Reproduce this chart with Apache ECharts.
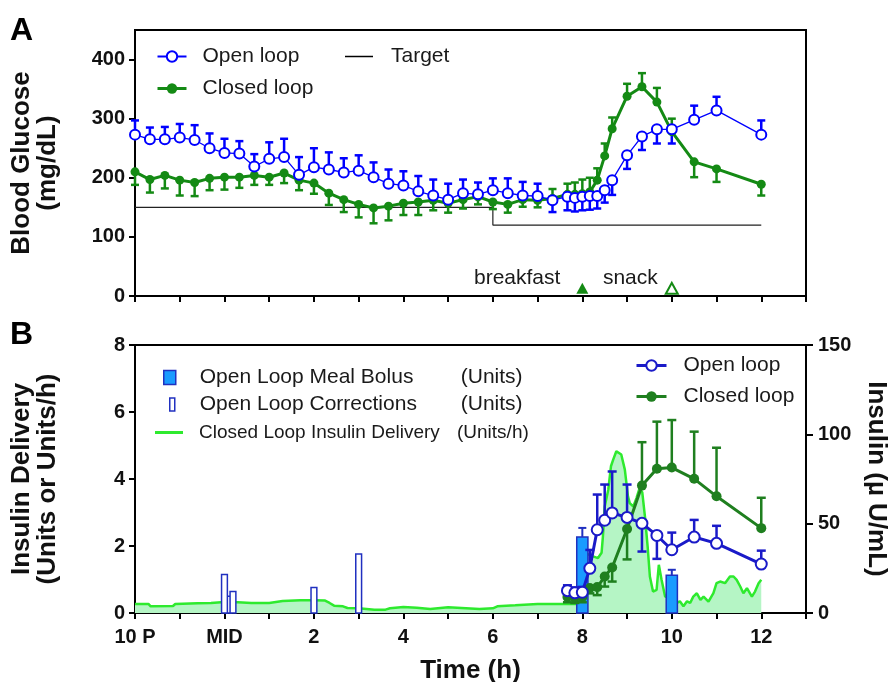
<!DOCTYPE html>
<html>
<head>
<meta charset="utf-8">
<script src="https://cdn.jsdelivr.net/npm/echarts@6/dist/echarts.min.js"></script>
<style>html,body{margin:0;padding:0;background:#fff}#c{width:893px;height:682px}</style>
</head>
<body>
<div id="c"></div>
<script>
// ---------- DATA ----------
const hourTicks = [-2,-1,0,1,2,3,4,5,6,7,8,9,10,11,12,13];
const xTickValues = [-2,0,2,4,6,8,10,12];
const xTickLabels = ['10 P','MID','2','4','6','8','10','12'];

const glucoseTicks = [0,100,200,300,400];
const glucoseTimes = [-2,-1.667,-1.333,-1,-0.667,-0.333,0,0.333,0.667,1,1.333,1.667,2,2.333,2.667,3,3.333,3.667,4,4.333,4.667,5,5.333,5.667,6,6.333,6.667,7,7.333,7.667,7.833,8,8.167,8.333,8.5,8.667,9,9.333,9.667,10,10.5,11,12];
const glucoseOpen = [273,265,265,268,264,250,242,241,219,232,235,205,218,214,209,212,201,190,187,177,170,163,174,172,179,174,170,169,162,168,166,168,169,169,179,196,238,270,282,282,298,314,273];
const glucoseOpenErr = [24,20,21,23,25,25,24,21,21,28,31,30,32,29,24,26,25,24,24,26,27,27,23,20,20,25,23,21,-20,-23,-23,-23,-23,-21,-21,-25,-23,-23,-24,-24,24,23,24];
const glucoseClosed = [210,197,204,196,192,199,201,201,204,201,208,196,191,174,163,155,149,152,157,159,162,157,163,168,159,155,163,162,165,172,172,173,176,196,237,283,338,354,328,278,227,215,189];
const glucoseClosedErr = [-22,-22,-22,-26,-23,-20,-21,-18,-16,-13,-17,-17,-18,-20,-21,-22,-26,-24,-20,-22,-17,-16,-15,-13,-12,-14,-12,-12,16,18,20,24,24,20,21,19,21,23,24,22,-26,-22,-19];
const targetTimes = [-2,6,6,12];
const targetValues = [150,150,120,120];
const mealTimes = [8,10];
const mealNames = ['breakfast','snack'];
const mealMarkerLevel = [13,13];

const deliveryTicks = [0,2,4,6,8];
const insulinTicks = [0,50,100,150];
const bolusTimes = [8,10];
const bolusUnits = [2.27,1.13];
const bolusErr = [0.27,0.16];
const correctionTimes = [0.08,0,0.19,2,3];
const correctionUnits = [0.5,1.15,0.64,0.76,1.76];
const deliveryTimes = [-2,-1.7,-1.65,-1.15,-1.1,-0.6,-0.3,0,0.3,0.6,1,1.3,1.7,2,2.25,2.35,2.45,2.65,2.75,3,3.35,3.6,3.7,4,4.3,4.6,5,5.3,5.7,6,6.1,6.5,7,7.5,8,8.03,8.13,8.24,8.35,8.43,8.46,8.5,8.58,8.64,8.69,8.76,8.8,8.87,8.95,9.02,9.06,9.14,9.21,9.28,9.34,9.4,9.46,9.51,9.58,9.66,9.71,9.77,9.85,10,10.11,10.18,10.26,10.34,10.41,10.48,10.56,10.64,10.71,10.82,10.93,11,11.08,11.19,11.3,11.38,11.45,11.53,11.6,11.68,11.79,11.86,11.94,12];
const deliveryRate = [0.27,0.27,0.2,0.21,0.27,0.29,0.3,0.33,0.32,0.3,0.3,0.36,0.38,0.38,0.37,0.3,0.22,0.2,0.15,0.14,0.1,0.1,0.14,0.18,0.16,0.12,0.17,0.15,0.12,0.14,0.2,0.23,0.27,0.27,0.27,1.8,1.75,1.69,1.64,1.8,2.28,3.18,3.68,4.38,4.58,4.83,4.88,4.73,4.28,3.48,3.28,3.18,3.43,3.73,3.6,2.88,1.98,1.09,0.64,0.69,1.44,1.0,0.49,0.44,0.3,0.35,0.2,0.35,0.3,0.49,0.59,0.39,0.49,0.34,0.59,0.89,0.94,0.89,1.09,1.09,0.99,0.79,0.59,0.74,0.49,0.64,0.89,0.99];
const insulinTimes = [7.667,7.833,8,8.167,8.333,8.5,8.667,9,9.333,9.667,10,10.5,11,12];
const insulinOpen = [12.5,11.3,11.6,25,46.6,51.9,56,53.5,50.2,43.4,35.4,42.5,39,27.4];
const insulinOpenErr = [3,3,3,10.3,19.7,20,23.2,18.4,-15.8,-13.1,9.6,9.6,9.8,7.5];
const insulinClosed = [9,8.6,9,14,14.5,20.4,25.5,47,71.3,80.7,81.4,75.1,65.3,47.5];
const insulinClosedErr = [-3,-3,-3,-3,-4.5,-5.6,-7.9,-17,24.3,26.4,26.6,26.4,27.2,17];

const deliveryLegendNames = ['Open Loop Meal Bolus','Open Loop Corrections','Closed Loop Insulin Delivery'];
const deliveryLegendUnits = ['(Units)','(Units)','(Units/h)'];

// ---------- STYLE ----------
const FONT = '"Liberation Sans", Arial, Helvetica, sans-serif';
const C_OPEN_A = '#0000ff', C_CLOSED_A = '#148a14';
const C_OPEN_B = '#1a1ac8', C_CLOSED_B = '#1f7f1f';
const C_DELIV = '#2eea2e', C_DELIV_FILL = '#b5f5c5';
const C_BOLUS = '#1a9bff', C_BAR_EDGE = '#2030c0';

const zip = (a, b) => a.map((v, i) => [v, b[i]]);
const zip3 = (a, b, c) => a.map((v, i) => [v, b[i], c[i]]);

function errSeries(xi, yi, t, m, e, color, lw, capHalf, z) {
  return {
    type: 'custom', xAxisIndex: xi, yAxisIndex: yi, z: z, silent: true,
    data: zip3(t, m, e), encode: {x: 0, y: 1},
    renderItem: function (params, api) {
      const tt = api.value(0), v = api.value(1), er = api.value(2);
      const p0 = api.coord([tt, v]);
      const p1 = api.coord([tt, v + er]);
      return {type: 'group', children: [
        {type: 'line', shape: {x1: p0[0], y1: p0[1], x2: p1[0], y2: p1[1]}, style: {stroke: color, lineWidth: lw}},
        {type: 'line', shape: {x1: p1[0] - capHalf, y1: p1[1], x2: p1[0] + capHalf, y2: p1[1]}, style: {stroke: color, lineWidth: lw}}
      ]};
    }
  };
}
function barSeries(name, t, v, halfW, fill, stroke, z) {
  return {
    name: name, type: 'custom', xAxisIndex: 1, yAxisIndex: 1, z: z, silent: true,
    data: zip(t, v), encode: {x: 0, y: 1},
    itemStyle: {color: fill, borderColor: stroke},
    renderItem: function (params, api) {
      const tt = api.value(0), vv = api.value(1);
      const a = api.coord([tt - halfW, vv]);
      const b = api.coord([tt + halfW, 0]);
      return {type: 'rect', shape: {x: a[0], y: a[1], width: b[0] - a[0], height: b[1] - a[1]},
        style: {fill: fill, stroke: stroke, lineWidth: 1.5}};
    }
  };
}

const tickLabelStyle = {fontFamily: FONT, fontWeight: 'bold', fontSize: 20, color: '#111'};
const axisLineStyle = {onZero: false, lineStyle: {color: '#000', width: 2}};
const titleNameStyle = {fontFamily: FONT, fontWeight: 'bold', fontSize: 26, color: '#111', lineHeight: 26};
const legendText = {fontFamily: FONT, fontSize: 21, color: '#1a1a1a'};

function unitFormatter(name) {
  const i = deliveryLegendNames.indexOf(name);
  const small = i === 2;
  return '{s| }{' + (small ? 'm' : 'n') + '|' + name + '}{' + (small ? 'v' : 'u') + '|' + deliveryLegendUnits[i] + '}';
}
function richFor(spacer) {
  return {
    s: {width: spacer, fontSize: 10},
    n: {width: 261, fontFamily: FONT, fontSize: 21, color: '#1a1a1a'},
    u: {fontFamily: FONT, fontSize: 21, color: '#1a1a1a'},
    m: {width: 258, fontFamily: FONT, fontSize: 19, color: '#1a1a1a'},
    v: {fontFamily: FONT, fontSize: 19, color: '#1a1a1a'}
  };
}
function spacedLegend(spacer) {
  return {formatter: n => '{s| }' + n, textStyle: Object.assign({}, legendText, {rich: {s: {width: spacer}}})};
}

const option = {
  backgroundColor: '#fff',
  animation: false,
  title: [
    {text: 'A', left: 10, top: 15, padding: 0, textStyle: {fontFamily: FONT, fontWeight: 'bold', fontSize: 32, color: '#000'}},
    {text: 'B', left: 10, top: 319, padding: 0, textStyle: {fontFamily: FONT, fontWeight: 'bold', fontSize: 32, color: '#000'}}
  ],
  legend: [
    Object.assign({
      left: 156, top: 46, padding: 0, orient: 'vertical', itemGap: 11, itemWidth: 29, itemHeight: 13,
      data: [
        {name: 'Open loop', itemStyle: {color: C_OPEN_A}, lineStyle: {color: C_OPEN_A, width: 2}},
        {name: 'Closed loop', itemStyle: {color: C_CLOSED_A}, lineStyle: {color: C_CLOSED_A, width: 3}}
      ], selectedMode: false
    }, spacedLegend(11)),
    Object.assign({
      left: 345, top: 46, padding: 0, itemWidth: 28, itemHeight: 1.5, icon: 'rect',
      data: [{name: 'Target', itemStyle: {color: '#000'}}], selectedMode: false
    }, spacedLegend(13)),
    Object.assign({
      left: 635, top: 355, padding: 0, orient: 'vertical', itemGap: 10, itemWidth: 30, itemHeight: 13,
      data: [
        {name: 'Open loop', itemStyle: {color: C_OPEN_B}, lineStyle: {color: C_OPEN_B, width: 3}},
        {name: 'Closed loop', itemStyle: {color: C_CLOSED_B}, lineStyle: {color: C_CLOSED_B, width: 3}}
      ], selectedMode: false
    }, spacedLegend(12)),
    {
      left: 163, top: 367, padding: 0, itemWidth: 12, itemHeight: 14, icon: 'rect', selectedMode: false,
      data: [{name: deliveryLegendNames[0], itemStyle: {color: C_BOLUS, borderColor: C_BAR_EDGE, borderWidth: 1.5}}],
      formatter: unitFormatter, textStyle: {rich: richFor(19)}
    },
    {
      left: 169, top: 394, padding: 0, itemWidth: 5, itemHeight: 13, icon: 'rect', selectedMode: false,
      data: [{name: deliveryLegendNames[1], itemStyle: {color: '#fff', borderColor: C_BAR_EDGE, borderWidth: 1.5}}],
      formatter: unitFormatter, textStyle: {rich: richFor(20)}
    },
    {
      left: 155, top: 423, padding: 0, itemWidth: 28, itemHeight: 3, icon: 'rect', selectedMode: false,
      data: [{name: deliveryLegendNames[2], itemStyle: {color: C_DELIV}}],
      formatter: unitFormatter, textStyle: {rich: richFor(11)}
    }
  ],
  grid: [
    {left: 135, top: 30, width: 671, height: 266, show: true, borderColor: '#000', borderWidth: 2, backgroundColor: 'transparent', outerBoundsMode: 'none', containLabel: false},
    {left: 135, top: 345, width: 671, height: 268, show: true, borderColor: '#000', borderWidth: 2, backgroundColor: 'transparent', outerBoundsMode: 'none', containLabel: false}
  ],
  xAxis: [
    {type: 'value', gridIndex: 0, min: -2, max: 13, interval: 1,
      axisLine: axisLineStyle, axisTick: {length: 6, lineStyle: {width: 2, color: '#000'}, customValues: hourTicks},
      axisLabel: {show: false}, splitLine: {show: false}},
    {type: 'value', gridIndex: 1, min: -2, max: 13, interval: 1,
      name: 'Time (h)', nameLocation: 'middle', nameGap: 45, nameTextStyle: titleNameStyle,
      axisLine: axisLineStyle, axisTick: {length: 6, lineStyle: {width: 2, color: '#000'}, customValues: hourTicks},
      axisLabel: Object.assign({margin: 14, customValues: xTickValues,
        formatter: v => { const i = xTickValues.indexOf(Math.round(v)); return i >= 0 ? xTickLabels[i] : ''; }}, tickLabelStyle),
      splitLine: {show: false}}
  ],
  yAxis: [
    {type: 'value', gridIndex: 0, min: 0, max: 450, interval: 50,
      name: 'Blood Glucose\n(mg/dL)', nameLocation: 'middle', nameGap: 74, nameRotate: 90, nameTextStyle: titleNameStyle,
      axisLine: axisLineStyle, axisTick: {length: 6, lineStyle: {width: 2, color: '#000'}, customValues: glucoseTicks},
      axisLabel: Object.assign({margin: 10, customValues: glucoseTicks}, tickLabelStyle), splitLine: {show: false}},
    {type: 'value', gridIndex: 1, min: 0, max: 8, interval: 2,
      name: 'Insulin Delivery\n(Units or Units/h)', nameLocation: 'middle', nameGap: 74, nameRotate: 90, nameTextStyle: titleNameStyle,
      axisLine: axisLineStyle, axisTick: {length: 6, lineStyle: {width: 2, color: '#000'}, customValues: deliveryTicks},
      axisLabel: Object.assign({margin: 10, customValues: deliveryTicks}, tickLabelStyle), splitLine: {show: false}},
    {type: 'value', gridIndex: 1, min: 0, max: 150, interval: 50, position: 'right',
      name: 'Insulin (µ U/mL)', nameLocation: 'middle', nameGap: 57, nameRotate: -90, nameTextStyle: titleNameStyle,
      axisLine: axisLineStyle, axisTick: {length: 7, lineStyle: {width: 2, color: '#000'}, customValues: insulinTicks},
      axisLabel: Object.assign({margin: 12, customValues: insulinTicks}, tickLabelStyle), splitLine: {show: false}}
  ],
  series: [
    // ---- Panel A ----
    {name: 'Target', type: 'line', xAxisIndex: 0, yAxisIndex: 0, data: zip(targetTimes, targetValues),
      symbol: 'none', lineStyle: {color: '#222', width: 1.2}, itemStyle: {color: '#000'}, z: 1, silent: true},
    errSeries(0, 0, glucoseTimes, glucoseClosed, glucoseClosedErr, C_CLOSED_A, 2.5, 4, 2),
    errSeries(0, 0, glucoseTimes, glucoseOpen, glucoseOpenErr, C_OPEN_A, 2.5, 4, 2),
    {name: 'Closed loop', type: 'line', xAxisIndex: 0, yAxisIndex: 0, data: zip(glucoseTimes, glucoseClosed),
      symbol: 'circle', symbolSize: 9, lineStyle: {color: C_CLOSED_A, width: 3}, itemStyle: {color: C_CLOSED_A}, z: 3, silent: true},
    {name: 'Open loop', type: 'line', xAxisIndex: 0, yAxisIndex: 0, data: zip(glucoseTimes, glucoseOpen),
      symbol: 'emptyCircle', symbolSize: 10, lineStyle: {color: C_OPEN_A, width: 1.3}, itemStyle: {color: C_OPEN_A, borderWidth: 2.5}, z: 4, silent: true},
    {type: 'scatter', xAxisIndex: 0, yAxisIndex: 0, z: 5, silent: true,
      data: mealTimes.map((t, i) => ({
        name: mealNames[i], value: [t, mealMarkerLevel[i]],
        itemStyle: i === 0 ? {color: C_CLOSED_A, opacity: 1} : {color: '#fff', borderColor: C_CLOSED_A, borderWidth: 2, opacity: 1},
        label: {distance: i === 0 ? 16 : 7}
      })),
      symbol: 'triangle', symbolSize: [12, 11], itemStyle: {opacity: 1},
      label: {show: true, position: 'left', offset: [0, -10], formatter: p => p.name, fontFamily: FONT, fontSize: 21, color: '#1a1a1a'}},
    // ---- Panel B ----
    {name: deliveryLegendNames[2], type: 'line', xAxisIndex: 1, yAxisIndex: 1, data: zip(deliveryTimes, deliveryRate),
      symbol: 'none', lineStyle: {color: C_DELIV, width: 2.5}, itemStyle: {color: C_DELIV},
      areaStyle: {color: C_DELIV_FILL, opacity: 1}, z: 1, silent: true},
    barSeries(deliveryLegendNames[1], correctionTimes, correctionUnits, 0.065, '#fff', C_BAR_EDGE, 2),
    barSeries(deliveryLegendNames[0], bolusTimes, bolusUnits, 0.125, C_BOLUS, C_BAR_EDGE, 2),
    errSeries(1, 1, bolusTimes, bolusUnits, bolusErr, C_BAR_EDGE, 2, 4, 2),
    errSeries(1, 2, insulinTimes, insulinClosed, insulinClosedErr, C_CLOSED_B, 2.5, 4.5, 3),
    errSeries(1, 2, insulinTimes, insulinOpen, insulinOpenErr, C_OPEN_B, 2.5, 4.5, 3),
    {name: 'Closed loop', type: 'line', xAxisIndex: 1, yAxisIndex: 2, data: zip(insulinTimes, insulinClosed),
      symbol: 'circle', symbolSize: 10, lineStyle: {color: C_CLOSED_B, width: 3}, itemStyle: {color: C_CLOSED_B}, z: 4, silent: true},
    {name: 'Open loop', type: 'line', xAxisIndex: 1, yAxisIndex: 2, data: zip(insulinTimes, insulinOpen),
      symbol: 'emptyCircle', symbolSize: 11, lineStyle: {color: C_OPEN_B, width: 3}, itemStyle: {color: C_OPEN_B, borderWidth: 2}, z: 5, silent: true}
  ]
};

const chart = echarts.init(document.getElementById('c'));
chart.setOption(option);
</script>
</body>
</html>
